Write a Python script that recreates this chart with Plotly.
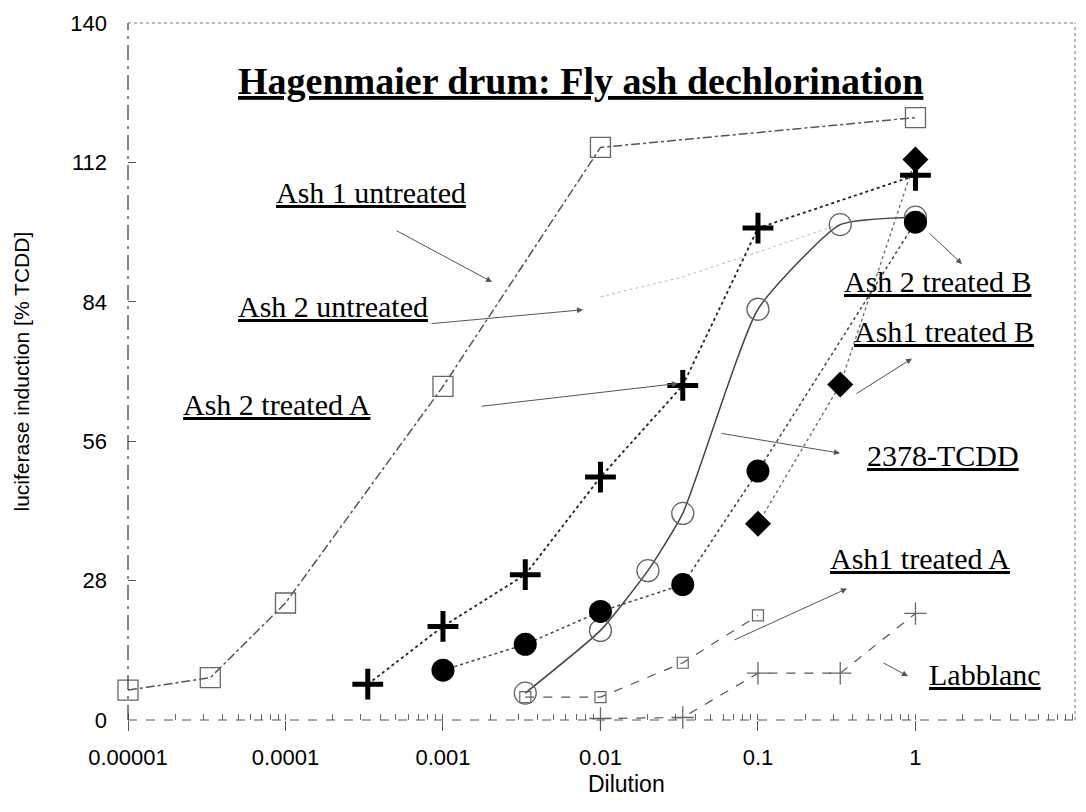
import plotly.graph_objects as go

# ---------------- data ----------------
ash1_untreated_x = [0.00001, 0.0000333, 0.0001, 0.001, 0.01, 1]
ash1_untreated_y = [6, 8.5, 23.5, 67, 115, 121]

ash2_treatedA_x = [0.000333, 0.001, 0.00333, 0.01, 0.0333, 0.1, 1]
ash2_treatedA_y = [7.2, 18.8, 29.2, 48.8, 67.2, 98.8, 109.4]

ash2_treatedB_x = [0.001, 0.00333, 0.01, 0.0333, 0.1, 1]
ash2_treatedB_y = [10, 15.2, 21.8, 27.2, 50, 100]

ash1_treatedB_x = [0.1, 0.333, 1]
ash1_treatedB_y = [39.4, 67.4, 112.6]

tcdd_x = [0.00333, 0.01, 0.02, 0.0333, 0.1, 0.333, 1]
tcdd_y = [5.4, 18, 30, 41.5, 82.5, 99.5, 101]

ash1_treatedA_x = [0.00333, 0.01, 0.0333, 0.1]
ash1_treatedA_y = [4.6, 4.6, 11.5, 21]

labblanc_x = [0.01, 0.0333, 0.1, 0.333, 1]
labblanc_y = [0.3, 0.5, 9.4, 9.4, 21.4]

ash2_untreated_x = [0.01, 0.0333, 0.1, 0.333]
ash2_untreated_y = [85, 89, 94, 99.6]

x_tickvals = [0.00001, 0.0001, 0.001, 0.01, 0.1, 1]
x_ticktext = ["0.00001", "0.0001", "0.001", "0.01", "0.1", "1"]
y_tickvals = [0, 28, 56, 84, 112, 140]

title_text = "Hagenmaier drum: Fly ash dechlorination"
labels = ["Ash 1 untreated", "Ash 2 untreated", "Ash 2 treated A", "Ash 2 treated B",
          "Ash1 treated B", "2378-TCDD", "Ash1 treated A", "Labblanc"]

# ---------------- layout geometry ----------------
# page has 8px body margin; figure sized to avoid scrollbars
OFF = 8
W, H = 1086 - 2 * OFF, 812 - 2 * OFF
L, R, T, B = 128, 1075, 20, 720  # plot area in page pixels


def px(xp):
    return (xp - L) / (R - L)


def py(yp):
    return (B - yp) / (B - T)


fig = go.Figure()

fig.add_trace(go.Scatter(x=ash2_untreated_x, y=ash2_untreated_y, mode="lines",
                         line=dict(color="#bbbbbb", width=1, dash="dot"),
                         name="Ash 2 untreated"))
fig.add_trace(go.Scatter(x=ash1_untreated_x, y=ash1_untreated_y, mode="lines+markers",
                         line=dict(color="#555555", width=1.5, dash="dashdot"),
                         marker=dict(symbol="square-open", size=20, color="#666666",
                                     line=dict(width=1.3, color="#666666")),
                         name="Ash 1 untreated"))
fig.add_trace(go.Scatter(x=tcdd_x, y=tcdd_y, mode="lines+markers",
                         line=dict(color="#444444", width=1.5, shape="spline", smoothing=0.5),
                         marker=dict(symbol="circle-open", size=22, color="#666666",
                                     line=dict(width=1.3, color="#666666")),
                         name="2378-TCDD"))
fig.add_trace(go.Scatter(x=ash1_treatedA_x, y=ash1_treatedA_y, mode="lines+markers",
                         line=dict(color="#555555", width=1.2, dash="dash"),
                         marker=dict(symbol="square-open", size=11, color="#666666",
                                     line=dict(width=1.2, color="#666666")),
                         name="Ash1 treated A"))
fig.add_trace(go.Scatter(x=labblanc_x, y=labblanc_y, mode="lines+markers",
                         line=dict(color="#555555", width=1.2, dash="dash"),
                         marker=dict(symbol="cross-thin", size=16, color="#666666",
                                     line=dict(width=1.3, color="#666666")),
                         name="Labblanc"))
fig.add_trace(go.Scatter(x=ash2_treatedB_x, y=ash2_treatedB_y, mode="lines+markers",
                         line=dict(color="#444444", width=1.5, dash="dot"),
                         marker=dict(symbol="circle", size=23, color="black"),
                         name="Ash 2 treated B"))
fig.add_trace(go.Scatter(x=ash1_treatedB_x, y=ash1_treatedB_y, mode="lines+markers",
                         line=dict(color="#666666", width=1.3, dash="dot"),
                         marker=dict(symbol="diamond", size=20, color="black"),
                         name="Ash1 treated B"))
fig.add_trace(go.Scatter(x=ash2_treatedA_x, y=ash2_treatedA_y, mode="lines+markers",
                         line=dict(color="#222222", width=1.8, dash="dot"),
                         marker=dict(symbol="cross-thin", size=22, color="black",
                                     line=dict(width=5, color="black")),
                         name="Ash 2 treated A"))

for tr in fig.data:
    tr.cliponaxis = False

# ---------------- annotations ----------------
ann = []
serif = dict(family="Liberation Serif", size=30, color="black")
label_pos = [(371, 190), (333, 305), (277, 403), (937, 280),
             (944, 330), (943, 454), (920, 558), (985, 674)]
for txt, (cx, cy) in zip(labels, label_pos):
    ann.append(dict(text="<u>" + txt + "</u>", x=px(cx), y=py(cy), xref="paper", yref="paper",
                    showarrow=False, font=serif, xanchor="center", yanchor="middle"))

arrows = [(395, 228, 492, 280), (430, 322, 583, 308), (480, 405, 678, 382),
          (928, 230, 962, 262), (855, 393, 912, 357), (720, 432, 840, 452),
          (733, 640, 847, 588), (882, 662, 908, 676)]
for tx, ty, hx, hy in arrows:
    ann.append(dict(text="", x=px(hx), y=py(hy), xref="paper", yref="paper",
                    ax=tx - hx, ay=ty - hy, axref="pixel", ayref="pixel",
                    showarrow=True, arrowhead=2, arrowsize=1.2, arrowwidth=1,
                    arrowcolor="#555555"))

ann.append(dict(text="<b><u>" + title_text + "</u></b>", x=px(580), y=py(78),
                xref="paper", yref="paper", showarrow=False,
                font=dict(family="Liberation Sans", size=1, color="white"),
                visible=False))
ann.append(dict(text="<b><u>" + title_text + "</u></b>", x=px(580), y=py(78),
                xref="paper", yref="paper", showarrow=False,
                font=dict(family="Liberation Serif", size=38, color="black"),
                xanchor="center", yanchor="middle"))
ann.append(dict(text="luciferase induction [% TCDD]", x=px(21), y=py(370), xref="paper", yref="paper",
                showarrow=False, textangle=-90, font=dict(family="Liberation Sans", size=21, color="black"),
                xanchor="center", yanchor="middle"))
ann.append(dict(text="Dilution", x=px(626), y=py(784), xref="paper", yref="paper",
                showarrow=False, font=dict(family="Liberation Sans", size=23, color="black"),
                xanchor="center", yanchor="middle"))

# ---------------- frame ----------------
shapes = [
    dict(type="line", xref="paper", yref="paper", x0=0, x1=0, y0=0, y1=1,
         line=dict(color="#333333", width=1.2, dash="longdashdot")),
    dict(type="line", xref="paper", yref="paper", x0=0, x1=1, y0=0, y1=0,
         line=dict(color="#555555", width=1, dash="dash")),
    dict(type="line", xref="paper", yref="paper", x0=0, x1=1, y0=1, y1=1,
         line=dict(color="#777777", width=1, dash="dot")),
    dict(type="line", xref="paper", yref="paper", x0=1, x1=1, y0=0, y1=1,
         line=dict(color="#777777", width=1, dash="dot")),
]

fig.update_layout(
    width=W, height=H,
    margin=dict(l=L - OFF, r=W - (R - OFF), t=T - OFF, b=H - (B - OFF)),
    paper_bgcolor="white", plot_bgcolor="white",
    showlegend=False,
    annotations=ann, shapes=shapes,
    font=dict(family="Liberation Sans", size=22, color="black"),
)
fig.update_xaxes(type="log", range=[-5, 1.013], tickvals=x_tickvals, ticktext=x_ticktext,
                 showgrid=False, zeroline=False, showline=False,
                 ticks="outside", ticklen=10, tickcolor="#555555", ticklabelstandoff=8,
                 ticklabeloverflow="allow",
                 minor=dict(ticks="inside", ticklen=6, tickcolor="#666666", dtick="D1", showgrid=False),
                 tickfont=dict(family="Liberation Sans", size=22))
fig.update_yaxes(range=[0, 140], tickvals=y_tickvals, showgrid=False, zeroline=False,
                 showline=False, ticks="inside", ticklen=8, tickcolor="#555555",
                 ticklabelstandoff=20, ticklabeloverflow="allow",
                 tickfont=dict(family="Liberation Sans", size=22))

fig.write_html("out.html")
